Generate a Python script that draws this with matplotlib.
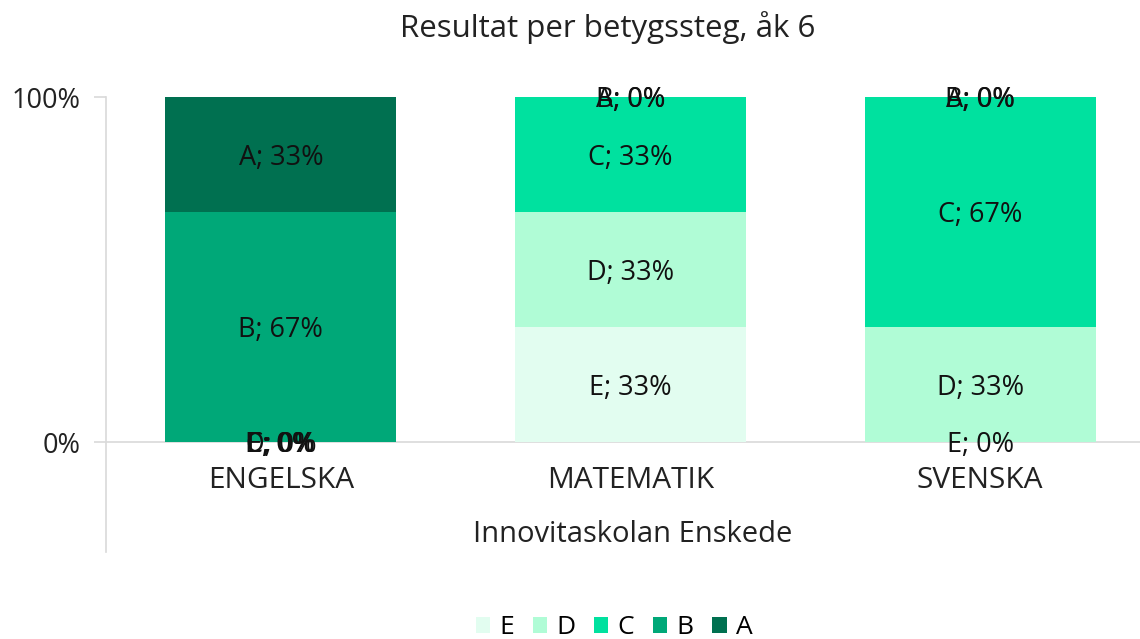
import matplotlib
matplotlib.use("Agg")
import matplotlib.pyplot as plt
import numpy as np

plt.rcParams['font.family'] = ['Open Sans', 'DejaVu Sans']

title = "Resultat per betygssteg, åk 6"
categories = ["ENGELSKA", "MATEMATIK", "SVENSKA"]
xlabel = "Innovitaskolan Enskede"
grades = ["E", "D", "C", "B", "A"]
values = {
    "E": [0.0, 33.33, 0.0],
    "D": [0.0, 33.33, 33.33],
    "C": [0.0, 33.34, 66.67],
    "B": [66.67, 0.0, 0.0],
    "A": [33.33, 0.0, 0.0],
}
colors = {
    "E": "#E2FDF0",
    "D": "#B0FCD6",
    "C": "#00E19F",
    "B": "#00A878",
    "A": "#007050",
}

W, H = 1140, 639
fig = plt.figure(figsize=(W / 100, H / 100), dpi=100)
left_px, right_px = 106, 1155
top_px, zero_px, bottom_px = 97, 442, 552
ax = fig.add_axes([left_px / W, 1 - bottom_px / H, (right_px - left_px) / W, (bottom_px - top_px) / H])

x = np.arange(len(categories))
ymin = -(bottom_px - zero_px) / (zero_px - top_px) * 100
bottom = np.zeros(len(categories))
handles = []
for g in grades:
    v = np.array(values[g])
    b = ax.bar(x, v, width=0.66, bottom=bottom, color=colors[g], label=g, zorder=2)
    handles.append(b)
    for xi, vi, bi in zip(x, v, bottom):
        ax.text(xi, bi + vi / 2 - 1.0, f"{g}; {round(vi):d}%", ha="center", va="center",
                fontsize=19.5, color="#111111", zorder=4)
    bottom += v

ax.set_xlim(-0.5, 2.5)
ax.set_ylim(ymin, 100)
ax.axhline(0, color="#d9d9d9", lw=1.2, zorder=1)
for s in ["top", "right", "bottom"]:
    ax.spines[s].set_visible(False)
ax.spines["left"].set_color("#d9d9d9")
ax.spines["left"].set_linewidth(1.2)
ax.set_yticks([0, 100])
ax.set_yticklabels(["0%", "100%"], fontsize=19.5, color="#222222")
ax.tick_params(axis="y", length=9, color="#d9d9d9", width=1.2, pad=9)
ax.set_xticks([])

for xi, c in zip(x, categories):
    ax.text(xi, -11.3, c, ha="center", va="center", fontsize=21.5, color="#222222")
ax.text(633 / W, 1 - 535 / H, xlabel, transform=fig.transFigure, ha="center", va="center",
        fontsize=21, color="#222222")
fig.text(608 / W, 1 - 28 / H, title, ha="center", va="center", fontsize=22.5, color="#222222")

fig.legend(handles=handles, labels=grades, loc="center", bbox_to_anchor=(614 / W, 1 - 628 / H),
           ncol=5, frameon=False, fontsize=19, handlelength=0.55, handleheight=0.55,
           handletextpad=0.35, columnspacing=0.7)

fig.savefig("out.png", dpi=100)
